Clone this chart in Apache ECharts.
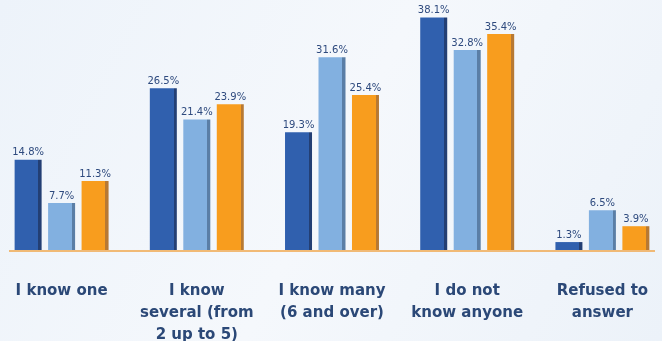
<!DOCTYPE html>
<html>
<head>
<meta charset="utf-8">
<script src="https://cdn.jsdelivr.net/npm/echarts@6/dist/echarts.min.js"></script>
<style>
  html, body { margin: 0; padding: 0; overflow: hidden; }
  #chart { width: 662px; height: 341px; }
</style>
</head>
<body>
<div id="chart"></div>
<script>
const categories = [
  'I know one',
  'I know\nseveral (from\n2 up to 5)',
  'I know many\n(6 and over)',
  'I do not\nknow anyone',
  'Refused to\nanswer'
];
const seriesA = [14.8, 26.5, 19.3, 38.1, 1.3];
const seriesB = [7.7, 21.4, 31.6, 32.8, 6.5];
const seriesC = [11.3, 23.9, 25.4, 35.4, 3.9];

// front face colour, side face colour
const palette = [
  ['#3060ae', '#233f74'],
  ['#82b0e0', '#5a7ea6'],
  ['#f89d1e', '#b77933']
];

function faceGradient(front, side) {
  return new echarts.graphic.LinearGradient(0, 0, 1, 0, [
    { offset: 0, color: front },
    { offset: 0.88, color: front },
    { offset: 0.88, color: side },
    { offset: 1, color: side }
  ]);
}

function makeSeries(data, idx) {
  return {
    type: 'bar',
    data: data,
    barWidth: 27,
    barGap: '24%',
    itemStyle: { color: faceGradient(palette[idx][0], palette[idx][1]) },
    label: {
      show: true,
      position: 'top',
      distance: 2,
      formatter: p => p.value.toFixed(1) + '%',
      fontFamily: 'DejaVu Sans',
      fontSize: 10,
      color: '#2e4a7e'
    }
  };
}

const chart = echarts.init(document.getElementById('chart'));
chart.setOption({
  animation: false,
  backgroundColor: new echarts.graphic.LinearGradient(0, 0, 1, 1, [
    { offset: 0, color: '#edf3fa' },
    { offset: 0.5, color: '#f5f8fc' },
    { offset: 1, color: '#ecf2f9' }
  ]),
  grid: { left: -6, right: -8, top: 6, bottom: 91, outerBoundsMode: 'none', containLabel: false },
  xAxis: {
    type: 'category',
    data: categories,
    axisLine: { show: false },
    axisTick: { show: false },
    axisLabel: {
      interval: 0,
      margin: 30,
      fontFamily: 'DejaVu Sans',
      fontWeight: 'bold',
      fontSize: 15,
      lineHeight: 22,
      color: '#2b4877'
    }
  },
  yAxis: {
    type: 'value',
    min: 0,
    max: 40,
    show: false,
    splitLine: { show: false }
  },
  series: [makeSeries(seriesA, 0), makeSeries(seriesB, 1), makeSeries(seriesC, 2)]
});

// orange baseline drawn at the value-axis zero
const y0 = chart.convertToPixel({ yAxisIndex: 0 }, 0);
chart.setOption({
  graphic: [{
    type: 'line',
    shape: { x1: 9, y1: y0 + 1, x2: 655, y2: y0 + 1 },
    style: { stroke: '#f0a64a', lineWidth: 1.5 }
  }]
});
</script>
</body>
</html>
